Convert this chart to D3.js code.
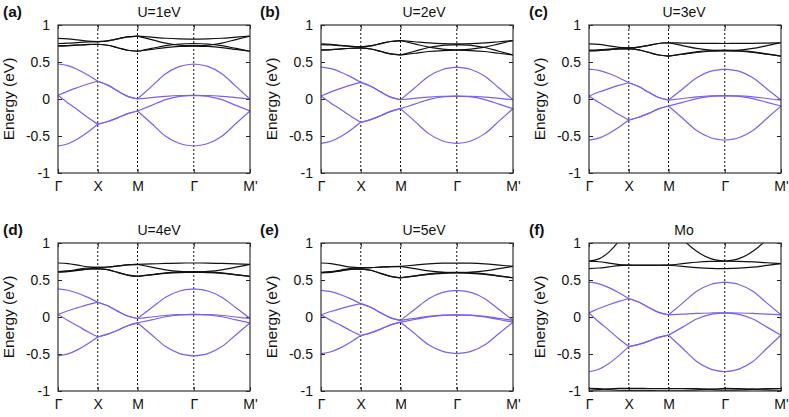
<!DOCTYPE html>
<html>
<head>
<meta charset="utf-8">
<script src="https://cdn.jsdelivr.net/npm/d3@7"></script>
<style>
  body { margin: 0; background: #fff; }
  svg { font-family: "Liberation Sans", Arial, Helvetica, sans-serif; }
  .axis path { display: none; }
  .axis line { stroke: #222; }
  .axis text { font-size: 14px; fill: #111; }
</style>
</head>
<body>
<svg id="chart" width="789" height="417"></svg>
<script>
// k-path sample points: Γ -> X -> M -> Γ -> M'
const kGrid = [0, 0.25, 0.5, 0.75, 1, 1.25, 1.5, 1.75, 2, 2.354, 2.707, 3.061, 3.414, 3.768, 4.121, 4.475, 4.828]
const kTicks = [0, 1, 2, 3.414, 4.828]
const kLabels = ["Γ", "X", "M", "Γ", "M'"]
const yTicks = [-1, -0.5, 0, 0.5, 1]

const panelTags = ["(a)", "(b)", "(c)", "(d)", "(e)", "(f)"]
const panelTitles = ["U=1eV", "U=2eV", "U=3eV", "U=4eV", "U=5eV", "Mo"]

// purple bands (eV), one row per band
const purpleA = [
  [0.473, 0.450, 0.396, 0.324, 0.240, 0.187, 0.108, 0.036, 0.000, 0.170, 0.341, 0.440, 0.473, 0.440, 0.341, 0.170, 0.000],
  [0.050, 0.107, 0.156, 0.202, 0.240, 0.187, 0.108, 0.036, 0.000, 0.018, 0.036, 0.047, 0.050, 0.047, 0.036, 0.018, 0.000],
  [0.050, -0.055, -0.149, -0.250, -0.340, -0.304, -0.255, -0.198, -0.162, -0.086, -0.009, 0.035, 0.050, 0.035, -0.009, -0.086, -0.162],
  [-0.635, -0.605, -0.538, -0.446, -0.340, -0.304, -0.255, -0.198, -0.162, -0.332, -0.503, -0.602, -0.635, -0.602, -0.503, -0.332, -0.162]
]
const purpleB = [
  [0.430, 0.410, 0.362, 0.299, 0.225, 0.173, 0.096, 0.025, -0.010, 0.148, 0.307, 0.399, 0.430, 0.399, 0.307, 0.148, -0.010],
  [0.040, 0.096, 0.144, 0.188, 0.225, 0.173, 0.096, 0.025, -0.010, 0.008, 0.026, 0.037, 0.040, 0.037, 0.026, 0.008, -0.010],
  [0.040, -0.056, -0.141, -0.233, -0.315, -0.278, -0.226, -0.167, -0.130, -0.069, -0.008, 0.028, 0.040, 0.028, -0.008, -0.069, -0.130],
  [-0.600, -0.571, -0.506, -0.418, -0.315, -0.278, -0.226, -0.167, -0.130, -0.299, -0.468, -0.567, -0.600, -0.567, -0.468, -0.299, -0.130]
]
const purpleC = [
  [0.405, 0.387, 0.344, 0.287, 0.220, 0.168, 0.091, 0.020, -0.015, 0.136, 0.287, 0.376, 0.405, 0.376, 0.287, 0.136, -0.015],
  [0.040, 0.094, 0.141, 0.184, 0.220, 0.168, 0.091, 0.020, -0.015, 0.007, 0.028, 0.041, 0.045, 0.041, 0.028, 0.007, -0.015],
  [0.040, -0.048, -0.126, -0.210, -0.285, -0.247, -0.194, -0.133, -0.095, -0.045, 0.006, 0.035, 0.045, 0.035, 0.006, -0.045, -0.095],
  [-0.555, -0.528, -0.466, -0.382, -0.285, -0.247, -0.194, -0.133, -0.095, -0.261, -0.426, -0.523, -0.555, -0.523, -0.426, -0.261, -0.095]
]
const purpleD = [
  [0.380, 0.362, 0.321, 0.265, 0.200, 0.152, 0.079, 0.013, -0.020, 0.124, 0.268, 0.352, 0.380, 0.352, 0.268, 0.124, -0.020],
  [0.035, 0.085, 0.127, 0.167, 0.200, 0.152, 0.079, 0.013, -0.020, 0.000, 0.020, 0.031, 0.035, 0.031, 0.020, 0.000, -0.020],
  [0.035, -0.047, -0.121, -0.200, -0.270, -0.232, -0.179, -0.118, -0.080, -0.039, 0.003, 0.027, 0.035, 0.027, 0.003, -0.039, -0.080],
  [-0.525, -0.499, -0.441, -0.362, -0.270, -0.232, -0.179, -0.118, -0.080, -0.240, -0.400, -0.494, -0.525, -0.494, -0.400, -0.240, -0.080]
]
const purpleE = [
  [0.360, 0.342, 0.301, 0.245, 0.180, 0.131, 0.056, -0.011, -0.045, 0.101, 0.247, 0.332, 0.360, 0.332, 0.247, 0.101, -0.045],
  [0.030, 0.075, 0.114, 0.150, 0.180, 0.131, 0.056, -0.011, -0.045, -0.018, 0.009, 0.025, 0.030, 0.025, 0.009, -0.018, -0.045],
  [0.030, -0.046, -0.113, -0.186, -0.250, -0.214, -0.164, -0.106, -0.070, -0.034, 0.002, 0.023, 0.030, 0.023, 0.002, -0.034, -0.070],
  [-0.495, -0.470, -0.414, -0.338, -0.250, -0.214, -0.164, -0.106, -0.070, -0.223, -0.376, -0.465, -0.495, -0.465, -0.376, -0.223, -0.070]
]
const purpleF = [
  [0.470, 0.448, 0.397, 0.329, 0.250, 0.202, 0.129, 0.063, 0.030, 0.188, 0.347, 0.439, 0.470, 0.439, 0.347, 0.188, 0.030],
  [0.056, 0.114, 0.165, 0.211, 0.250, 0.202, 0.129, 0.063, 0.030, 0.039, 0.049, 0.054, 0.056, 0.054, 0.049, 0.039, 0.030],
  [0.056, -0.067, -0.177, -0.295, -0.400, -0.369, -0.326, -0.276, -0.245, -0.137, -0.028, 0.035, 0.056, 0.035, -0.028, -0.137, -0.245],
  [-0.740, -0.706, -0.628, -0.522, -0.400, -0.369, -0.326, -0.276, -0.245, -0.423, -0.601, -0.705, -0.740, -0.705, -0.601, -0.423, -0.245]
]

// black bands (eV)
const blackA = [
  [0.820, 0.813, 0.798, 0.782, 0.775, 0.786, 0.813, 0.839, 0.850, 0.836, 0.821, 0.813, 0.810, 0.813, 0.821, 0.836, 0.850],
  [0.750, 0.754, 0.763, 0.771, 0.775, 0.786, 0.813, 0.839, 0.850, 0.803, 0.756, 0.729, 0.720, 0.729, 0.756, 0.803, 0.850],
  [0.720, 0.723, 0.730, 0.737, 0.740, 0.726, 0.693, 0.659, 0.645, 0.683, 0.721, 0.743, 0.750, 0.743, 0.721, 0.683, 0.645],
  [0.715, 0.719, 0.728, 0.736, 0.740, 0.726, 0.693, 0.659, 0.645, 0.670, 0.695, 0.710, 0.715, 0.710, 0.695, 0.670, 0.645]
]
const blackB = [
  [0.745, 0.739, 0.725, 0.711, 0.705, 0.718, 0.748, 0.777, 0.790, 0.774, 0.758, 0.748, 0.745, 0.748, 0.758, 0.774, 0.790],
  [0.735, 0.731, 0.720, 0.710, 0.705, 0.718, 0.748, 0.777, 0.790, 0.745, 0.700, 0.674, 0.665, 0.674, 0.700, 0.745, 0.790],
  [0.665, 0.669, 0.678, 0.686, 0.690, 0.676, 0.643, 0.609, 0.595, 0.645, 0.696, 0.725, 0.735, 0.725, 0.696, 0.645, 0.595],
  [0.660, 0.665, 0.675, 0.686, 0.690, 0.676, 0.643, 0.609, 0.595, 0.618, 0.642, 0.655, 0.660, 0.655, 0.642, 0.618, 0.595]
]
const blackC = [
  [0.745, 0.737, 0.718, 0.698, 0.690, 0.701, 0.725, 0.750, 0.760, 0.756, 0.753, 0.751, 0.750, 0.751, 0.753, 0.756, 0.760],
  [0.660, 0.665, 0.675, 0.686, 0.690, 0.701, 0.725, 0.750, 0.760, 0.722, 0.684, 0.662, 0.655, 0.662, 0.684, 0.722, 0.760],
  [0.655, 0.659, 0.668, 0.676, 0.680, 0.665, 0.630, 0.595, 0.580, 0.609, 0.638, 0.654, 0.660, 0.654, 0.638, 0.609, 0.580],
  [0.650, 0.655, 0.665, 0.676, 0.680, 0.665, 0.630, 0.595, 0.580, 0.605, 0.630, 0.645, 0.650, 0.645, 0.630, 0.605, 0.580]
]
const blackD = [
  [0.730, 0.721, 0.700, 0.679, 0.670, 0.676, 0.690, 0.704, 0.710, 0.717, 0.724, 0.729, 0.730, 0.729, 0.724, 0.717, 0.710],
  [0.615, 0.623, 0.643, 0.662, 0.670, 0.676, 0.690, 0.704, 0.710, 0.674, 0.638, 0.617, 0.610, 0.617, 0.638, 0.674, 0.710],
  [0.610, 0.617, 0.633, 0.648, 0.655, 0.639, 0.603, 0.566, 0.550, 0.573, 0.597, 0.610, 0.615, 0.610, 0.597, 0.573, 0.550],
  [0.605, 0.613, 0.630, 0.648, 0.655, 0.639, 0.603, 0.566, 0.550, 0.570, 0.590, 0.601, 0.605, 0.601, 0.590, 0.570, 0.550]
]
const blackE = [
  [0.730, 0.720, 0.698, 0.674, 0.665, 0.668, 0.675, 0.682, 0.685, 0.701, 0.717, 0.727, 0.730, 0.727, 0.717, 0.701, 0.685],
  [0.605, 0.614, 0.635, 0.656, 0.665, 0.668, 0.675, 0.682, 0.685, 0.654, 0.624, 0.606, 0.600, 0.606, 0.624, 0.654, 0.685],
  [0.600, 0.608, 0.625, 0.643, 0.650, 0.632, 0.590, 0.548, 0.530, 0.557, 0.584, 0.600, 0.605, 0.600, 0.584, 0.557, 0.530],
  [0.595, 0.603, 0.623, 0.642, 0.650, 0.632, 0.590, 0.548, 0.530, 0.553, 0.577, 0.590, 0.595, 0.590, 0.577, 0.553, 0.530]
]
const blackF = [
  [0.755, 0.785, 0.877, 1.028, 1.241, 1.250, 1.265, 1.280, 1.285, 1.053, 0.888, 0.788, 0.755, 0.788, 0.888, 1.053, 1.285],
  [0.755, 0.747, 0.728, 0.708, 0.700, 0.701, 0.702, 0.701, 0.700, 0.720, 0.740, 0.751, 0.755, 0.753, 0.745, 0.733, 0.720],
  [0.655, 0.662, 0.678, 0.693, 0.700, 0.699, 0.698, 0.699, 0.700, 0.684, 0.668, 0.658, 0.655, 0.660, 0.673, 0.697, 0.720],
  [-0.990, -0.982, -0.970, -0.965, -0.965, -0.965, -0.966, -0.966, -0.966, -0.966, -0.968, -0.978, -0.990, -0.986, -0.976, -0.968, -0.966],
  [-0.965, -0.968, -0.980, -0.990, -0.992, -0.992, -0.991, -0.990, -0.990, -0.990, -0.985, -0.975, -0.965, -0.968, -0.975, -0.985, -0.990]
]

const purpleSets = [purpleA, purpleB, purpleC, purpleD, purpleE, purpleF]
const blackSets = [blackA, blackB, blackC, blackD, blackE, blackF]

let width = 192, height = 148
let colLeft = [58, 321, 589], rowTop = [25, 243]
let tagX = [3, 260, 529], titleX = [159, 424, 684]

let x = d3.scaleLinear().domain([0, 4.828]).range([0, width])
let y = d3.scaleLinear().domain([-1, 1]).range([height, 0])

let line = d3.line()
    .x(d => x(d[0]))
    .y(d => y(d[1]))
    .curve(d3.curveMonotoneX)

// draw each leg of the path on its own so the kinks at X, M and Γ stay sharp
function bandPath(vals) {
  let pts = vals.map((v, i) => [kGrid[i], v])
  return [0, 4, 8, 12].map(s => line(pts.slice(s, s + 5))).join("")
}

let svg = d3.select("#chart")

panelTitles.forEach((title, i) => {
  let col = i % 3, row = Math.floor(i / 3)
  let left = colLeft[col], top = rowTop[row]

  // panel tag and title
  svg.append("text")
    .attr("x", tagX[col]).attr("y", top - 8)
    .attr("font-size", 15.5).attr("font-weight", "bold").attr("fill", "#111")
    .text(panelTags[i])
  svg.append("text")
    .attr("x", titleX[col]).attr("y", top - 8)
    .attr("text-anchor", "middle").attr("font-size", 14).attr("fill", "#111")
    .text(title)

  let g = svg.append("g").attr("transform", `translate(${left},${top})`)

  g.append("clipPath").attr("id", "clip" + i)
    .append("rect").attr("width", width).attr("height", height)

  // y label
  g.append("text")
    .attr("transform", `translate(-44,${height / 2}) rotate(-90)`)
    .attr("text-anchor", "middle").attr("font-size", 15.5).attr("fill", "#111")
    .text("Energy (eV)")

  // axes, ticks pointing inward like gnuplot
  g.append("g").attr("class", "axis")
    .call(d3.axisLeft(y).tickValues(yTicks).tickSize(-4).tickPadding(8).tickFormat(d => String(d)))
  g.append("g").attr("class", "axis")
    .attr("transform", `translate(${width},0)`)
    .call(d3.axisRight(y).tickValues(yTicks).tickSize(-4).tickFormat(""))
  g.append("g").attr("class", "axis")
    .attr("transform", `translate(0,${height})`)
    .call(d3.axisBottom(x).tickValues(kTicks).tickSize(-4).tickPadding(8).tickFormat((d, j) => kLabels[j]))
  g.append("g").attr("class", "axis")
    .call(d3.axisTop(x).tickValues(kTicks).tickSize(-4).tickFormat(""))

  // high-symmetry markers
  g.selectAll(".sym").data(kTicks.slice(1, 4)).enter().append("line")
    .attr("class", "sym")
    .attr("x1", d => x(d)).attr("x2", d => x(d))
    .attr("y1", 0).attr("y2", height)
    .attr("stroke", "#111").attr("stroke-width", 1)
    .attr("stroke-dasharray", "2,2")

  let bands = g.append("g").attr("clip-path", `url(#clip${i})`).attr("fill", "none")

  bands.selectAll(".black").data(blackSets[i]).enter().append("path")
    .attr("class", "black")
    .attr("d", bandPath)
    .attr("stroke", "#111").attr("stroke-width", 1.2)

  bands.selectAll(".purple").data(purpleSets[i]).enter().append("path")
    .attr("class", "purple")
    .attr("d", bandPath)
    .attr("stroke", "#7b60ee").attr("stroke-width", 1.2)

  // frame on top
  g.append("rect")
    .attr("width", width).attr("height", height)
    .attr("fill", "none").attr("stroke", "#333").attr("stroke-width", 1.2)
})
</script>
</body>
</html>
